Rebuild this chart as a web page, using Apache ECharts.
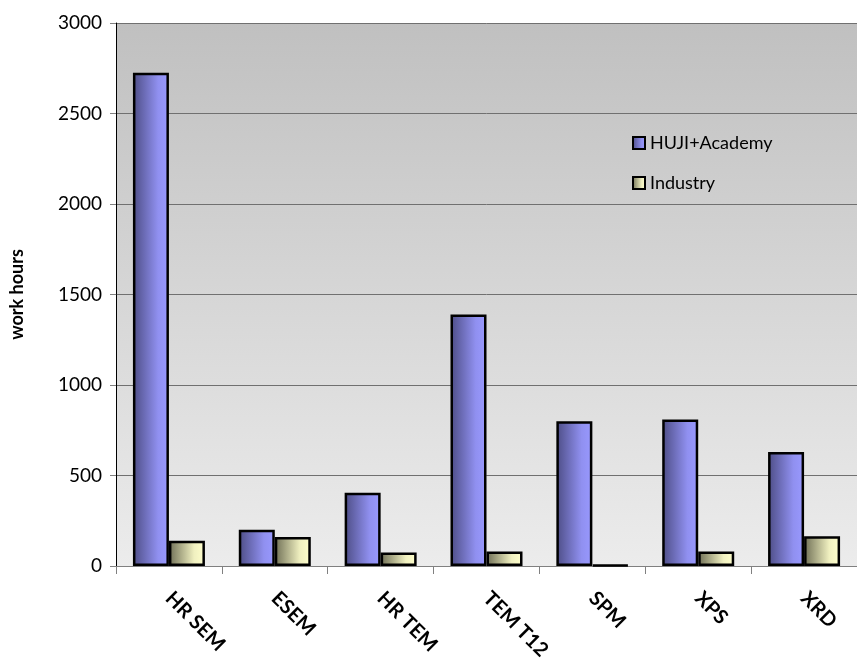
<!DOCTYPE html>
<html>
<head>
<meta charset="utf-8">
<script src="https://cdn.jsdelivr.net/npm/echarts@6/dist/echarts.min.js"></script>
<style>
  html, body { margin: 0; padding: 0; background: #fff; }
  #chart { width: 857px; height: 667px; }
</style>
</head>
<body>
<div id="chart"></div>
<script>
var categories = ['HR SEM', 'ESEM', 'HR TEM', 'TEM T12', 'SPM', 'XPS', 'XRD'];
var academy = [2725, 200, 405, 1390, 800, 810, 630];
var industry = [140, 160, 75, 80, 5, 80, 165];
var seriesNames = ['HUJI+Academy', 'Industry'];

var chart = echarts.init(document.getElementById('chart'));

var font = 'Lato, "Open Sans", sans-serif';

var option = {
  animation: false,
  textStyle: { fontFamily: font },
  grid: {
    left: 115,
    top: 23,
    width: 749,
    height: 543,
    show: true,
    borderWidth: 0,
    backgroundColor: new echarts.graphic.LinearGradient(0, 0, 0, 1, [
      { offset: 0, color: '#c0c0c0' },
      { offset: 1, color: '#ececec' }
    ])
  },
  legend: {
    orient: 'vertical',
    left: 627,
    top: 129,
    itemGap: 22,
    itemWidth: 12,
    itemHeight: 12,
    icon: 'rect',
    textStyle: { fontSize: 18, color: '#000', fontFamily: font },
    data: seriesNames
  },
  xAxis: {
    type: 'category',
    data: categories,
    axisLine: { lineStyle: { color: '#808080', width: 1 } },
    axisTick: { show: true, length: 8, lineStyle: { color: '#808080' } },
    axisLabel: {
      rotate: -45,
      margin: 29,
      fontSize: 20,
      fontWeight: 'bold',
      color: '#000',
      fontFamily: font
    }
  },
  yAxis: {
    type: 'value',
    min: 0,
    max: 3000,
    interval: 500,
    name: 'work hours',
    nameLocation: 'middle',
    nameGap: 90,
    nameRotate: 90,
    nameTextStyle: { fontSize: 18, fontWeight: 'bold', color: '#000', fontFamily: font },
    axisLine: { show: true, lineStyle: { color: '#000', width: 1 } },
    axisTick: { show: true, length: 6, lineStyle: { color: '#808080' } },
    axisLabel: {
      fontSize: 19,
      color: '#000',
      margin: 14,
      fontFamily: font,
      formatter: function (v) { return String(v); }
    },
    splitLine: { show: true, lineStyle: { color: '#707070', width: 1 } }
  },
  series: [
    {
      name: seriesNames[0],
      type: 'bar',
      data: academy,
      barWidth: 36,
      barGap: '0%',
      itemStyle: {
        color: new echarts.graphic.LinearGradient(0, 0, 1, 0, [
          { offset: 0, color: '#4d4d85' },
          { offset: 0.7, color: '#9090f0' },
          { offset: 1, color: '#9999ff' }
        ]),
        borderColor: '#000',
        borderWidth: 2.5
      }
    },
    {
      name: seriesNames[1],
      type: 'bar',
      data: industry,
      barWidth: 36,
      itemStyle: {
        color: new echarts.graphic.LinearGradient(0, 0, 1, 0, [
          { offset: 0, color: '#6e6e55' },
          { offset: 0.7, color: '#f0f0c0' },
          { offset: 1, color: '#ffffcc' }
        ]),
        borderColor: '#000',
        borderWidth: 2.5
      }
    }
  ]
};

chart.setOption(option);
</script>
</body>
</html>
